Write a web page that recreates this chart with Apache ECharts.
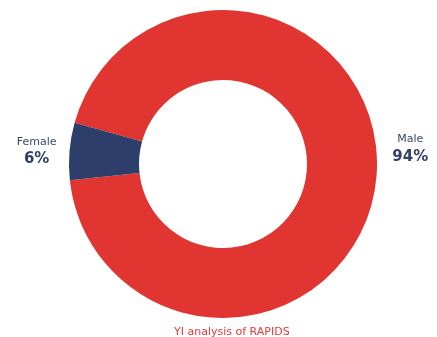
<!DOCTYPE html>
<html>
<head>
<meta charset="utf-8">
<script src="https://cdn.jsdelivr.net/npm/echarts@6/dist/echarts.min.js"></script>
<style>
  html, body { margin: 0; padding: 0; background: #fff; }
  #chart { width: 437px; height: 337px; }
</style>
</head>
<body>
<div id="chart"></div>
<script>
// data
let names = ["Male", "Female"];
let percents = [94, 6];
let colours = ["#e03531", "#2e3e6a"];

let chartDiv = document.getElementById("chart");
var myChart = echarts.init(chartDiv);

let array = [];
names.forEach((name, i) => {
    array.push({ value: percents[i], name: name, itemStyle: { color: colours[i] } });
});

let option = {
    title: {
        text: 'YI analysis of RAPIDS',
        left: 169,
        top: 322,
        textStyle: {
            color: '#e03a3a',
            fontSize: 11,
            fontWeight: 'normal',
            fontFamily: 'DejaVu Sans'
        }
    },
    series: [
        {
            type: 'pie',
            center: [223, 164],
            radius: [84, 154],
            startAngle: 164.5,
            clockwise: true,
            silent: true,
            label: {
                show: true,
                position: 'outside',
                overflow: 'none',
                formatter: '{n|{b}}\n{v|{c}%}',
                align: 'center',
                rich: {
                    n: { fontSize: 11, color: '#3a4670', fontFamily: 'DejaVu Sans', lineHeight: 17, align: 'center' },
                    v: { fontSize: 15, fontWeight: 'bold', color: '#34406a', fontFamily: 'DejaVu Sans', lineHeight: 18, align: 'center' }
                }
            },
            labelLine: { show: false, length: 6, length2: 6 },
            labelLayout: function (p) {
                return p.dataIndex === 0 ? { dy: -29 } : { dx: 4 };
            },
            data: array
        }
    ]
};

myChart.setOption(option);
</script>
</body>
</html>
